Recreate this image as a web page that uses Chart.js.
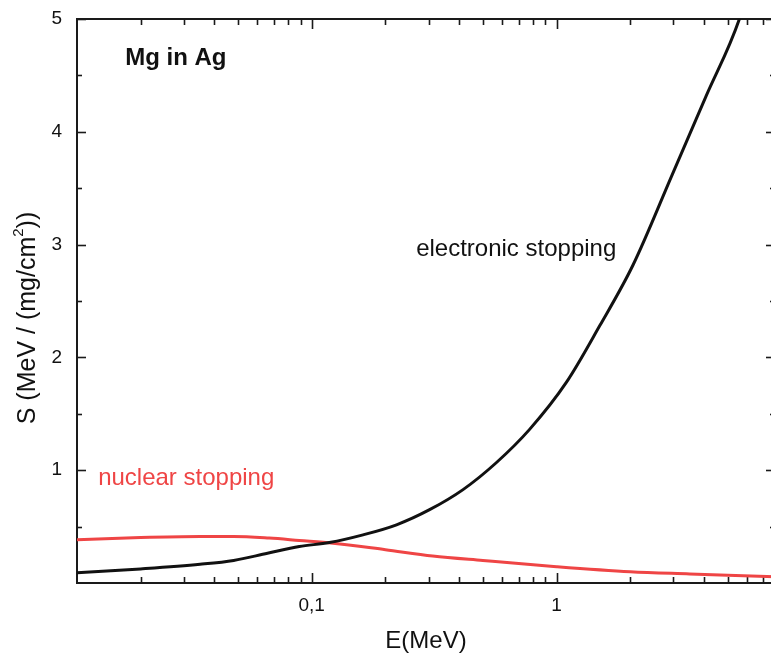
<!DOCTYPE html>
<html>
<head>
<meta charset="utf-8">
<script src="https://cdn.jsdelivr.net/npm/chart.js@4.4.0/dist/chart.umd.min.js"></script>
<style>
  html, body { margin: 0; padding: 0; overflow: hidden; background: #fff; }
  #wrap { width: 790px; height: 658px; }
</style>
</head>
<body>
<div id="wrap"><canvas id="c" width="790" height="658"></canvas></div>
<script>
// Stopping power of Mg ions in Ag, S in MeV/(mg/cm²) versus ion energy E in MeV
const electronicE = [0.011, 0.02, 0.035, 0.048, 0.066, 0.089, 0.118, 0.162, 0.222, 0.303, 0.415, 0.567, 0.776, 1.096, 1.50, 2.05, 2.98, 4.08, 5.58, 6.3];
const electronicS = [0.09, 0.125, 0.166, 0.2, 0.264, 0.323, 0.359, 0.427, 0.516, 0.65, 0.828, 1.066, 1.362, 1.778, 2.28, 2.817, 3.63, 4.316, 5.0, 5.4];

const nuclearE = [0.011, 0.02, 0.035, 0.048, 0.067, 0.089, 0.122, 0.2, 0.312, 0.5, 1.0, 2.0, 3.5, 5.0, 7.8];
const nuclearS = [0.383, 0.403, 0.412, 0.412, 0.398, 0.377, 0.353, 0.295, 0.24, 0.2, 0.145, 0.10, 0.08, 0.068, 0.056];

// axis ticks
const xMajorTicks = [0.1, 1];
const xMinorTicks = [0.02, 0.03, 0.04, 0.05, 0.06, 0.07, 0.08, 0.09,
                     0.2, 0.3, 0.4, 0.5, 0.6, 0.7, 0.8, 0.9,
                     2, 3, 4, 5, 6, 7];
const yMajorTicks = [1, 2, 3, 4, 5];
const yMinorTicks = [0.5, 1.5, 2.5, 3.5, 4.5];

const FONT = '"Liberation Sans", Arial, Helvetica, sans-serif';
const RED = '#ef4545';

const toPoints = (xs, ys) => xs.map((v, i) => ({ x: v, y: ys[i] }));

// frame with inward ticks on all four sides, plus the in-plot captions and axis titles
const framePlugin = {
  id: 'frameAndCaptions',
  beforeDatasetsDraw(chart) {
    const { ctx, chartArea: a, scales: { x, y } } = chart;
    ctx.save();
    ctx.strokeStyle = '#1a1a1a';
    ctx.lineCap = 'butt';
    const seg = (x1, y1, x2, y2) => { ctx.beginPath(); ctx.moveTo(x1, y1); ctx.lineTo(x2, y2); ctx.stroke(); };

    ctx.lineWidth = 1.6;
    xMajorTicks.forEach(v => {
      const p = Math.round(x.getPixelForValue(v)) + 0.5;
      seg(p, a.bottom, p, a.bottom - 10);
      seg(p, a.top, p, a.top + 10);
    });
    xMinorTicks.forEach(v => {
      const p = Math.round(x.getPixelForValue(v)) + 0.5;
      seg(p, a.bottom, p, a.bottom - 6);
      seg(p, a.top, p, a.top + 6);
    });
    yMajorTicks.forEach(v => {
      const p = Math.round(y.getPixelForValue(v)) + 0.5;
      seg(a.left, p, a.left + 9, p);
      seg(a.right, p, a.right - 9, p);
    });
    yMinorTicks.forEach(v => {
      const p = Math.round(y.getPixelForValue(v)) + 0.5;
      seg(a.left, p, a.left + 5, p);
      seg(a.right, p, a.right - 5, p);
    });

    ctx.lineWidth = 2;
    ctx.strokeRect(a.left, a.top, a.right - a.left, a.bottom - a.top);
    ctx.restore();
  },
  afterDraw(chart) {
    const { ctx, chartArea: a, scales: { x, y } } = chart;
    ctx.save();
    ctx.textBaseline = 'middle';
    ctx.textAlign = 'left';

    ctx.fillStyle = '#111';
    ctx.font = 'bold 24px ' + FONT;
    ctx.fillText('Mg in Ag', x.getPixelForValue(0.0173), y.getPixelForValue(4.65));

    ctx.font = '24px ' + FONT;
    ctx.fillText('electronic stopping', x.getPixelForValue(0.267), y.getPixelForValue(2.956));

    ctx.fillStyle = RED;
    ctx.fillText('nuclear stopping', x.getPixelForValue(0.01342), y.getPixelForValue(0.926));

    // x axis title
    ctx.fillStyle = '#111';
    ctx.textAlign = 'center';
    ctx.fillText('E(MeV)', (a.left + a.right) / 2, 641);

    // y axis title with superscript
    ctx.translate(28, 318);
    ctx.rotate(-Math.PI / 2);
    const main1 = 'S (MeV / (mg/cm';
    const sup = '2';
    const main2 = '))';
    ctx.font = '25px ' + FONT;
    const w1 = ctx.measureText(main1).width;
    const w3 = ctx.measureText(main2).width;
    ctx.font = '15px ' + FONT;
    const w2 = ctx.measureText(sup).width;
    const total = w1 + w2 + w3;
    let cx = -total / 2;
    ctx.textAlign = 'left';
    ctx.font = '25px ' + FONT;
    ctx.fillText(main1, cx, 0);
    cx += w1;
    ctx.font = '15px ' + FONT;
    ctx.fillText(sup, cx, -9);
    cx += w2;
    ctx.font = '25px ' + FONT;
    ctx.fillText(main2, cx, 0);
    ctx.restore();
  }
};

new Chart(document.getElementById('c'), {
  type: 'line',
  data: {
    datasets: [
      {
        label: 'electronic stopping',
        data: toPoints(electronicE, electronicS),
        borderColor: '#111',
        borderWidth: 3,
        pointRadius: 0,
        cubicInterpolationMode: 'monotone',
        clip: 0
      },
      {
        label: 'nuclear stopping',
        data: toPoints(nuclearE, nuclearS),
        borderColor: RED,
        borderWidth: 3,
        pointRadius: 0,
        cubicInterpolationMode: 'monotone',
        clip: 0
      }
    ]
  },
  options: {
    responsive: false,
    animation: false,
    layout: { padding: { left: 0, right: 15, top: 19, bottom: 0 } },
    plugins: { legend: { display: false }, tooltip: { enabled: false } },
    scales: {
      x: {
        type: 'logarithmic',
        min: 0.011,
        max: 7.8,
        grid: { display: false, drawTicks: false },
        border: { display: false },
        afterBuildTicks: s => { s.ticks = xMajorTicks.map(v => ({ value: v })); },
        afterFit: s => { s.height = 75; s.paddingLeft = 0; s.paddingRight = 0; },
        ticks: {
          padding: 11,
          color: '#111',
          font: { family: FONT, size: 19 },
          maxRotation: 0,
          autoSkip: false,
          callback: v => String(v).replace('.', ',')
        }
      },
      y: {
        type: 'linear',
        min: 0,
        max: 5,
        grid: { display: false, drawTicks: false },
        border: { display: false },
        afterBuildTicks: s => { s.ticks = yMajorTicks.map(v => ({ value: v })); },
        afterFit: s => { s.width = 77; s.paddingTop = 0; s.paddingBottom = 0; },
        ticks: {
          padding: 15,
          color: '#111',
          font: { family: FONT, size: 19 },
          callback: v => String(v)
        }
      }
    }
  },
  plugins: [framePlugin]
});
</script>
</body>
</html>
